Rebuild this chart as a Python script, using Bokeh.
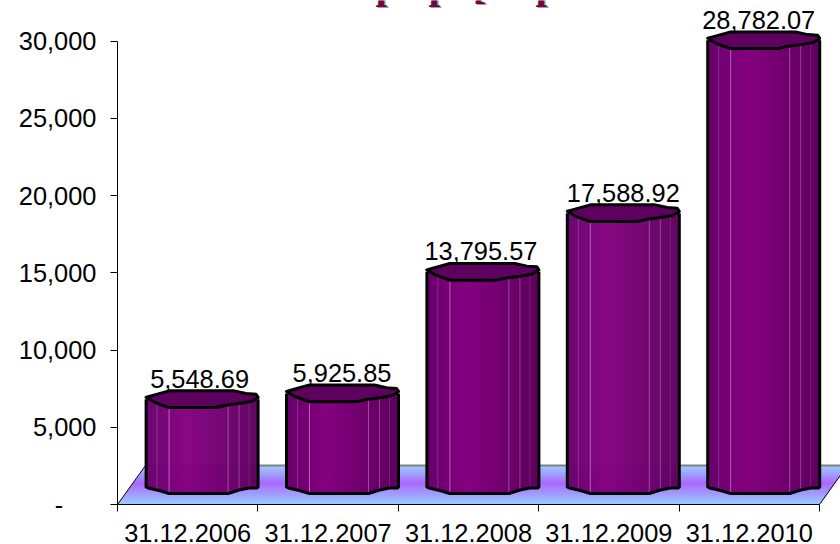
from bokeh.plotting import figure
from bokeh.models import Range1d, FixedTicker, Label, LinearAxis
from bokeh.core.properties import value
from bokeh.embed import file_html
from bokeh.resources import INLINE
import numpy as np

categories = ["31.12.2006", "31.12.2007", "31.12.2008", "31.12.2009", "31.12.2010"]
values = [5548.69, 5925.85, 13795.57, 17588.92, 28782.07]
value_labels = ["5,548.69", "5,925.85", "13,795.57", "17,588.92", "28,782.07"]
y_ticks = [0, 5000, 10000, 15000, 20000, 25000, 30000]
y_tick_labels = ["-\u00a0\u00a0\u00a0\u00a0\u2009", "5,000", "10,000", "15,000", "20,000", "25,000", "30,000"]
title_glyphs = ["p", "p", "[", "p"]

# ---- layout / style (pixels) ----
W, H = 840, 544
LEFT, BOTTOM = 117, 40
SLOT = 140.4
PY = 30000 / 463.5          # data units per pixel in y
PX = 1 / SLOT               # data units per pixel in x
DEPTH_X, DEPTH_Y = 28, 39
BAR_DX, BAR_DY = 14.4, 19.5
HALF = 56
FONT = "Liberation Sans"
FS = "25.4px"
CAP_UP = [(-56, -2), (-51, -3.4), (-33, -8.4), (32, -8.4), (44, -5.7), (54, -5), (56, -2)]
CAP_LOW = [(56, -1.7), (49, 2.3), (37, 4.3), (24, 6), (14, 8.3), (-33, 8.3), (-47, 3.3), (-56, -2)]
BASE_LOW = [(56, 2), (55, 3), (47, 3), (37, 5), (26, 8.5), (-33, 8.5), (-43, 5.5), (-54, 3), (-56, 2)]
FACETS = [-45, -33, 26, 37, 47]
FACET_ALPHA = [0.35, 0.8, 0.6, 0.5, 0.25]
LABEL_NUDGE = [-2.5, -0.5, -2, 0, -5]

p = figure(width=W, height=H, output_backend="svg", toolbar_location=None,
           x_range=Range1d(0, (W - LEFT) * PX), y_range=Range1d(0, (H - BOTTOM) * PY),
           min_border_left=LEFT, min_border_right=0, min_border_top=0, min_border_bottom=BOTTOM,
           x_axis_type=None, y_axis_type=None, margin=(0, 0, 0, 0))
p.grid.visible = False
p.outline_line_color = None
p.background_fill_color = "white"


def mix(a, b, t):
    return "#%02x%02x%02x" % tuple(round(x + (y - x) * t) for x, y in zip(a, b))


# floor
n_rows = DEPTH_Y
blue, purple = (153, 204, 255), (172, 104, 255)
PEAK = 0.55
fxs, fys, fcs = [], [], []
for r in range(n_rows):
    d0, d1 = r, min(r + 1.6, DEPTH_Y)
    f = r / (n_rows - 1)
    t = f / PEAK if f < PEAK else (1 - f) / (1 - PEAK)
    x0 = d0 * DEPTH_X / DEPTH_Y
    x1 = d1 * DEPTH_X / DEPTH_Y
    fxs.append([x0 * PX, 5 + x0 * PX, 5 + x1 * PX, x1 * PX])
    fys.append([d0 * PY, d0 * PY, d1 * PY, d1 * PY])
    fcs.append(mix(blue, purple, t))
p.patches(fxs, fys, fill_color=fcs, line_color=None)
p.line([5 + DEPTH_X * PX, DEPTH_X * PX], [DEPTH_Y * PY, DEPTH_Y * PY], line_color="#808080", line_width=2)
p.line([DEPTH_X * PX, 0], [DEPTH_Y * PY, 0], line_color="black", line_width=1)
p.line([5, 5 + DEPTH_X * PX], [0, DEPTH_Y * PY], line_color="black", line_width=1)

# bars
dark_l, bright, dark_r = (104, 0, 108), (133, 0, 128), (92, 0, 92)
low_px = [d[0] for d in reversed(BASE_LOW)]
low_py = [d[1] for d in reversed(BASE_LOW)]
for i, v in enumerate(values):
    cx = i + 0.5 + BAR_DX * PX
    base = BAR_DY * PY
    top = base + v
    lefts, rights, tops, bots, cols = [], [], [], [], []
    for k in range(-HALF, HALF):
        f = (k + HALF) / (2 * HALF)
        c = mix(dark_l, bright, f / 0.36) if f < 0.36 else mix(bright, dark_r, (f - 0.36) / 0.64)
        lefts.append(cx + k * PX)
        rights.append(cx + (k + 1.6) * PX if k < HALF - 2 else cx + (k + 1) * PX)
        tops.append(top)
        bots.append(base - float(np.interp(k + 0.5, low_px, low_py)) * PY)
        cols.append(c)
    p.quad(left=lefts, right=rights, top=tops, bottom=bots, fill_color=cols, line_color=None)
    # facet lines
    p.segment([cx + f * PX for f in FACETS], [base - float(np.interp(f, low_px, low_py)) * PY for f in FACETS],
              [cx + f * PX for f in FACETS], [top] * len(FACETS),
              line_color="#c878d0", line_alpha=FACET_ALPHA, line_width=1)
    # outline of body
    low_x = [cx + dx * PX for dx, _ in BASE_LOW]
    low_y = [base - dy * PY for _, dy in BASE_LOW]
    p.line([low_x[0]] + low_x + [low_x[-1]],
           [top] + low_y + [top], line_color="black", line_width=3, line_join="round")
    # top cap
    cap = CAP_UP + CAP_LOW
    p.patch([cx + dx * PX for dx, _ in cap], [top - dy * PY for _, dy in cap],
            fill_color="#5e005f", line_color="black", line_width=3, line_join="round")
    # value label
    p.text([cx + LABEL_NUDGE[i] * PX], [top + 20.5 * PY], text=[value_labels[i]],
           text_font=value(FONT), text_font_size=FS, text_color="black",
           text_align="center", text_baseline="alphabetic")

# axes
ya = LinearAxis(ticker=FixedTicker(ticks=y_ticks), bounds=(0, 30000))
ya.major_label_overrides = {t: s for t, s in zip(y_ticks, y_tick_labels)}
ya.major_label_text_font = FONT
ya.major_label_text_font_size = FS
ya.major_label_text_color = "black"
ya.major_tick_out = 7
ya.major_tick_in = 0
ya.minor_tick_out = 0
ya.minor_tick_in = 0
ya.major_label_standoff = 14
ya.axis_line_color = "black"
p.add_layout(ya, "left")

centers = [i + 0.5 for i in range(len(categories))]
xa = LinearAxis(ticker=FixedTicker(ticks=centers, minor_ticks=list(range(len(categories) + 1))),
                bounds=(0, len(categories)))
xa.major_label_overrides = {c: s for c, s in zip(centers, categories)}
xa.major_label_text_font = FONT
xa.major_label_text_font_size = FS
xa.major_label_text_color = "black"
xa.major_tick_out = 0
xa.major_tick_in = 0
xa.minor_tick_out = 7
xa.minor_tick_in = 0
xa.major_label_standoff = 12
xa.axis_line_color = "black"
p.add_layout(xa, "below")

# clipped chart title (only its lowest strokes are inside the picture)
title_x = [375, 428, 472, 535]
for g, tx in zip(title_glyphs, title_x):
    for off, col in ((1.5, "#a0a0a0"), (0, "#6b0a3c")):
        p.add_layout(Label(x=tx - LEFT + off, y=H - BOTTOM + 17 - off, x_units="screen", y_units="screen", text=g,
                           text_font="Liberation Serif", text_font_style="bold",
                           text_font_size="42px", text_color=col, text_baseline="alphabetic"))

open("out.html", "w").write(file_html(p, INLINE))
